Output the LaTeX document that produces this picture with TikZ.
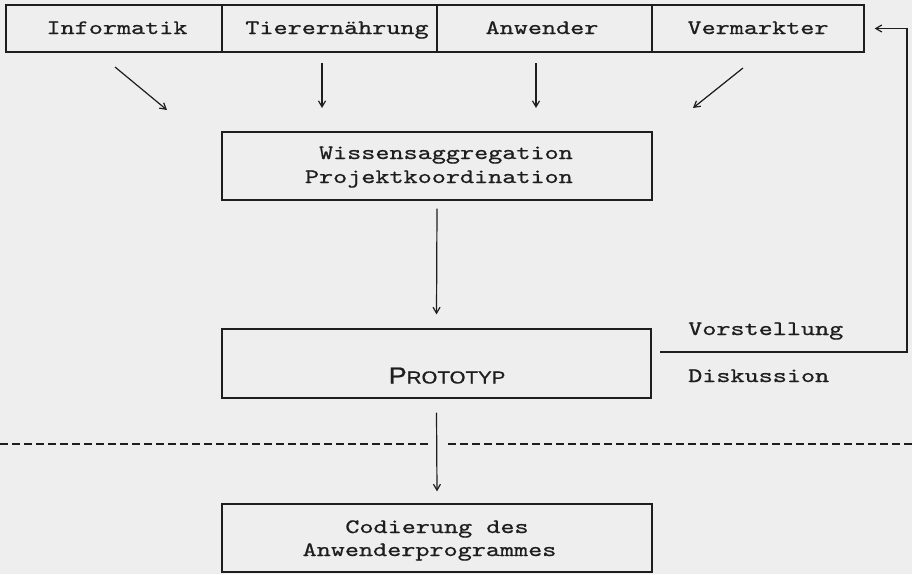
\documentclass[tikz,border=0pt]{standalone}
\usepackage{fontspec}
\usepackage{graphicx}
\usetikzlibrary{arrows.meta}
\newfontfamily\sansfnt[FakeBold=0.8]{Liberation Sans}
\newfontfamily\typefnt[FakeBold=0.6]{lmmono10-regular.otf}
\definecolor{ink}{HTML}{1E1E1E}
\definecolor{paper}{HTML}{EEEEEE}
\newcommand\tw[1]{\scalebox{1.31}[1]{\typefnt\fontsize{20.5}{24}\selectfont #1}}
\newcommand\protofont{\scalebox{1.17}[1]{\sansfnt\fontsize{23.2}{26}\selectfont P\fontsize{17.5}{20}\selectfont ROTOTYP}}
\begin{document}
\begin{tikzpicture}[x=1pt,y=-1pt,
  box/.style={draw=ink, line width=1.3pt, inner sep=0pt, minimum height=68pt, minimum width=430pt},
  cell/.style={draw=ink, line width=1.3pt, inner sep=0pt, minimum height=47pt},
  lbl/.style={text=ink, inner sep=0pt},
  conn/.style={draw=ink, line width=1.2pt, -{Straight Barb[length=6pt,width=7pt]}},
  dashline/.style={draw=ink, line width=1.2pt, dash pattern=on 8pt off 4pt}]
\useasboundingbox[fill=paper] (0,0) rectangle (912,574);
% top row
\node[cell, minimum width=216pt] (inf) at (114,28.5) {};
\node[cell, minimum width=215pt] (tier) at (329.5,28.5) {};
\node[cell, minimum width=215pt] (anw) at (544.5,28.5) {};
\node[cell, minimum width=212pt] (vm) at (758,28.5) {};
\node[lbl, anchor=base] (tinf) at (117,34) {\tw{Informatik}};
\node[lbl, anchor=base] (ttier) at (337,34) {\tw{Tierernährung}};
\node[lbl, anchor=base] (tanw) at (542,34) {\tw{Anwender}};
\node[lbl, anchor=base] (tvm) at (758,34) {\tw{Vermarkter}};
% middle box
\node[box] (mid) at (437,166) {};
\node[lbl, anchor=base east] (tmid1) at (573,159) {\tw{Wissensaggregation}};
\node[lbl, anchor=base east] (tmid2) at (573,183) {\tw{Projektkoordination}};
% input arrows
\coordinate (s1) at (115,67); \coordinate (e1) at (167,110);
\coordinate (s2) at (322,63); \coordinate (e2) at (322,108);
\coordinate (s3) at (536,63); \coordinate (e3) at (536,108);
\coordinate (s4) at (743,68); \coordinate (e4) at (693,108);
\draw[conn] (s1) -- (e1);
\draw[conn] (s2) -- (e2);
\draw[conn] (s3) -- (e3);
\draw[conn] (s4) -- (e4);
% prototype
\node[box, minimum width=429pt, minimum height=69pt] (proto) at (436.5,363.5) {};
\node[lbl, anchor=base] (tproto) at (447,383.5) {\protofont};
\draw[conn] ([yshift=-8pt]mid.south) -- ([yshift=14pt]proto.north);
% feedback
\node[lbl, anchor=base west] (vorst) at (688,335) {\tw{Vorstellung}};
\node[lbl, anchor=base west] (disk) at (688,382) {\tw{Diskussion}};
\coordinate (fb0) at (660,352);
\coordinate (fb1) at (907,352);
\coordinate (fb2) at (907,28.5);
\draw[conn] (fb0) -- (fb1) -- (fb2) -- ([xshift=10pt]vm.east);
% dashed separator
\draw[dashline] (0,444) -- (430,444);
\draw[dashline] (448,444) -- (912,444);
% coding box
\node[box] (cod) at (437,538) {};
\node[lbl, anchor=base] (tcod1) at (437,533) {\tw{Codierung des}};
\node[lbl, anchor=base] (tcod2) at (429.5,556) {\tw{Anwenderprogrammes}};
\draw[conn] ([yshift=-14pt]proto.south) -- ([yshift=12pt]cod.north);
\end{tikzpicture}
\end{document}
